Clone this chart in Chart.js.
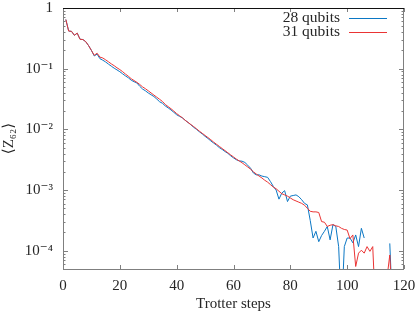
<!DOCTYPE html>
<html><head><meta charset="utf-8">
<script src="https://cdn.jsdelivr.net/npm/chart.js@4.4.0/dist/chart.umd.min.js"></script>
<style>html,body{margin:0;padding:0;background:#fff;}canvas{display:block;}</style>
</head><body>
<canvas id="c" width="415" height="313"></canvas>
<script>
// Trotter steps (x categories)
const steps = [1,2,3,4,5,6,7,8,9,10,11,12,13,14,15,16,17,18,19,20,
21,22,23,24,25,26,27,28,29,30,31,32,33,34,35,36,37,38,39,40,
41,42,43,44,45,46,47,48,49,50,51,52,53,54,55,56,57,58,59,60,
61,62,63,64,65,66,67,68,69,70,71,72,73,74,75,76,77,78,79,80,
81,82,83,84,85,86,87,88,89,90,91,92,93,94,95,96,97,98,99,100,
101,102,103,104,105,106,107,108,109,110,111,112,113,114,115,116];

// <Z62> for 28 qubits (null = not plotted)
const qubits28 = [0.646,0.417,0.412,0.355,0.385,0.305,0.302,0.279,0.240,0.200,
0.162,0.174,0.146,0.138,0.129,0.119,0.110,0.102,0.0955,0.0891,
0.0822,0.0759,0.0708,0.0646,0.0610,0.0582,0.0513,0.0462,0.0432,0.0398,
0.0372,0.0347,0.0316,0.0285,0.0269,0.0243,0.0226,0.0209,0.0191,0.0174,
0.0164,0.0155,0.0141,0.0130,0.0119,0.0108,0.0100,0.00912,0.00841,0.00767,
0.00708,0.00646,0.00596,0.00550,0.00501,0.00468,0.00432,0.00403,0.00367,0.00339,
0.00316,0.00302,0.00299,0.00285,0.00257,0.00229,0.00191,0.00178,0.00178,0.00170,
0.00166,0.00162,0.00138,0.00115,0.00100,0.000708,0.000891,0.000977,0.000646,0.000794,
0.000813,0.000832,0.000776,0.000692,0.000603,0.000569,0.000316,0.000162,0.000209,0.000141,
0.000178,0.000209,0.000251,0.000151,0.000269,0.000251,0.000117,0.00001,0.000117,0.000162,
0.000162,0.000135,0.000182,0.000117,0.000234,0.000162,null,null,null,null,
null,null,null,null,0.000132,0.00001];

// <Z62> for 31 qubits
const qubits31 = [0.646,0.417,0.412,0.355,0.385,0.305,0.302,0.279,0.240,0.200,
0.166,0.180,0.155,0.150,0.140,0.130,0.120,0.112,0.1035,0.0966,
0.0891,0.0813,0.0750,0.0684,0.0638,0.0596,0.0550,0.0501,0.0468,0.0432,
0.0398,0.0367,0.0339,0.0313,0.0288,0.0257,0.0237,0.0219,0.0200,0.0182,
0.0168,0.0155,0.0141,0.0130,0.0120,0.0111,0.0102,0.00933,0.00861,0.00794,
0.00733,0.00676,0.00617,0.00569,0.00525,0.00484,0.00447,0.00412,0.00380,0.00351,
0.00324,0.00302,0.00282,0.00260,0.00240,0.00221,0.00200,0.00184,0.00170,0.00158,
0.00145,0.00135,0.00123,0.00112,0.00105,0.000955,0.000871,0.000832,0.000794,0.000741,
0.000692,0.000661,0.000631,0.000603,0.000562,0.000501,0.000447,0.000437,0.000437,0.000427,
0.000302,0.000295,0.000251,0.000263,0.000269,0.000257,0.000251,0.000234,0.000224,0.000219,
0.000158,0.000182,0.0000550,0.0000912,0.000102,0.0000912,0.000117,0.0000977,0.000117,0.00001,
0.00001,0.00001,0.00001,0.0000355,0.0000851,0.00001];

const seriesNames = ['28 qubits','31 qubits'];
const seriesColors = ['#0b77c4','#ea3434'];
const xTicks = [0,20,40,60,80,100,120];
const yTicks = [1e-4,1e-3,1e-2,1e-1,1];
const yTickLabels = ['10⁻⁴','10⁻³','10⁻²','10⁻¹','1'];
const xTitle = 'Trotter steps';
const yTitle = '⟨Z₆₂⟩';

const FONT = "'Liberation Serif','DejaVu Serif',serif";
const TXT = '#262626';
const AX = '#7f7f7f';

const toPts = vals => steps.map((s,i)=>({x:s,y:vals[i]}));

const framePlugin = {
  id:'frame',
  afterDatasetsDraw(chart){
    const {ctx, chartArea:a, scales:{x,y}} = chart;
    ctx.save();
    ctx.lineWidth = 1;
    ctx.strokeStyle = AX;
    ctx.beginPath();
    xTicks.forEach(v=>{
      const px = Math.round(x.getPixelForValue(v))+0.5;
      ctx.moveTo(px,a.bottom); ctx.lineTo(px,a.bottom-4);
      ctx.moveTo(px,a.top); ctx.lineTo(px,a.top+4);
    });
    for(let k=-5;k<=0;k++){
      for(let m=1;m<=9;m++){
        const v = m*Math.pow(10,k);
        if(v<y.min*0.999||v>y.max*1.001) continue;
        const len = m===1?5:2.5;
        const py = Math.round(y.getPixelForValue(v))+0.5;
        ctx.moveTo(a.left,py); ctx.lineTo(a.left+len,py);
        ctx.moveTo(a.right,py); ctx.lineTo(a.right-len,py);
      }
    }
    ctx.stroke();
    ctx.beginPath();
    ctx.moveTo(a.left+0.5,a.top+0.5); ctx.lineTo(a.left+0.5,a.bottom+0.5);
    ctx.lineTo(a.right-0.5,a.bottom+0.5); ctx.lineTo(a.right-0.5,a.top+0.5);
    ctx.stroke();
    ctx.strokeStyle = '#111';
    ctx.beginPath();
    ctx.moveTo(a.left,a.top+0.5); ctx.lineTo(a.right,a.top+0.5);
    ctx.stroke();
    ctx.restore();
  }
};

const legendPlugin = {
  id:'gpLegend',
  afterDraw(chart){
    const ctx = chart.ctx;
    ctx.save();
    ctx.font = "15.5px " + FONT;
    ctx.textAlign = 'right';
    ctx.textBaseline = 'middle';
    seriesNames.forEach((n,i)=>{
      const yy = 18 + i*14.3;
      ctx.fillStyle = TXT;
      ctx.fillText(n, 340, yy);
      ctx.strokeStyle = seriesColors[i];
      ctx.lineWidth = 1;
      ctx.beginPath();
      ctx.moveTo(349, Math.round(yy)+0.5); ctx.lineTo(387, Math.round(yy)+0.5);
      ctx.stroke();
    });
    ctx.restore();
  }
};

const noPad = s => { s.paddingTop = 0; s.paddingBottom = 0; s.paddingLeft = 0; s.paddingRight = 0; };

new Chart(document.getElementById('c').getContext('2d'), {
  type:'line',
  data:{datasets:[
    {label:seriesNames[0], data:toPts(qubits28), borderColor:seriesColors[0], borderWidth:1, pointRadius:0, tension:0, spanGaps:false, fill:false, order:1},
    {label:seriesNames[1], data:toPts(qubits31), borderColor:seriesColors[1], borderWidth:1, pointRadius:0, tension:0, spanGaps:false, fill:false, order:0}
  ]},
  options:{
    responsive:false, animation:false, devicePixelRatio:1,
    layout:{padding:{left:0,right:11,top:8,bottom:0}},
    plugins:{legend:{display:false}, tooltip:{enabled:false}},
    scales:{
      x:{type:'linear', min:0, max:120,
         afterBuildTicks:s=>{ s.ticks = xTicks.map(v=>({value:v})); },
         ticks:{font:{family:FONT,size:15}, color:TXT, padding:8, maxRotation:0, autoSkip:false},
         grid:{display:false, drawTicks:false}, border:{display:false},
         title:{display:true, text:xTitle, font:{family:FONT,size:15}, color:TXT, padding:0},
         afterFit:s=>{ s.height = 44; noPad(s); }},
      y:{type:'logarithmic', min:5e-5, max:1,
         afterBuildTicks:s=>{ s.ticks = yTicks.map(v=>({value:v})); },
         ticks:{font:{family:FONT,size:15}, color:TXT, padding:10, autoSkip:false,
                callback:(v)=>{ const i = yTicks.findIndex(t=>Math.abs(t-v)/t<1e-6); return i>=0?yTickLabels[i]:''; }},
         grid:{display:false, drawTicks:false}, border:{display:false},
         title:{display:true, text:yTitle, font:{family:FONT,size:15}, color:TXT, padding:0},
         afterFit:s=>{ s.width = 63; noPad(s); }}
    }
  },
  plugins:[framePlugin, legendPlugin]
});
</script>
</body></html>
